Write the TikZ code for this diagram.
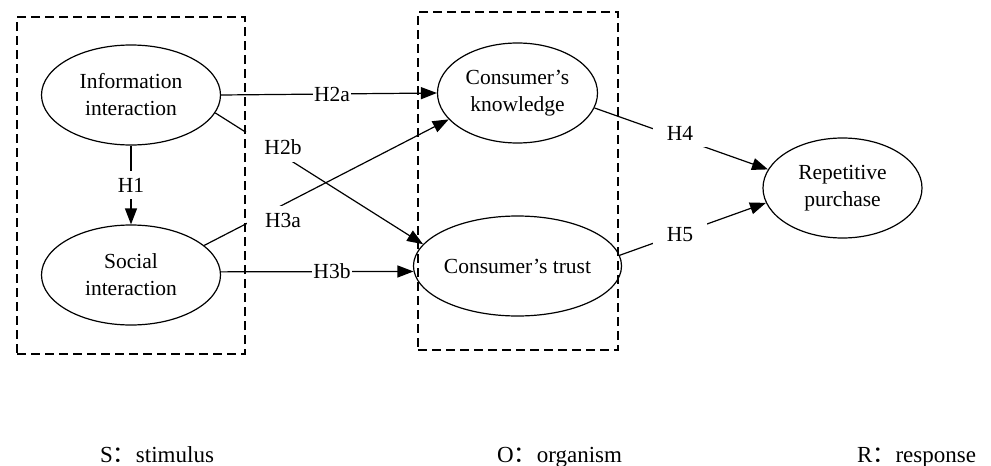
\documentclass[tikz,border=0pt]{standalone}
\usepackage{fontspec}
\setmainfont{Liberation Serif}
\newfontfamily\cjk{Noto Sans CJK SC}
\usetikzlibrary{shapes.geometric,arrows.meta}
\begin{document}
\begin{tikzpicture}[x=1pt,y=1pt,
  ell/.style={ellipse, draw, line width=1.2pt, inner sep=0pt, minimum width=#1, minimum height=100pt, align=center, font=\fontsize{21.5}{27}\selectfont},
  grp/.style={draw, line width=1.2pt, dash pattern=on 9pt off 5pt, inner sep=0pt},
  arr/.style={-{Triangle[length=16pt,width=12pt]}, line width=1.2pt},
  lab/.style={fill=white, inner xsep=1pt, inner ysep=7pt, font=\fontsize{21.5}{27}\selectfont},
  labw/.style={lab, inner xsep=#1},
  captxt/.style={anchor=base west, inner sep=0pt, font=\fontsize{23}{27}\selectfont}]
\useasboundingbox (0,0) rectangle (991,-466);
% group boxes
\node[grp, minimum width=228pt, minimum height=337pt] (sbox) at (131,-185.5) {};
\node[grp, minimum width=200pt, minimum height=338pt] (obox) at (518,-181) {};
% nodes
\node[ell=179pt] (info) at (131,-95) {Information\\interaction};
\node[ell=179pt] (social) at (131,-275) {Social\\interaction};
\node[ell=160pt] (know) at (517.5,-93) {Consumer’s\\knowledge};
\node[ell=160pt] (trust) at (517.5,-266) {Consumer’s trust};
\node[ell=159pt] (rep) at (842.5,-188) {Repetitive\\purchase};
% edges
\draw[arr] (info.south) -- (social.north);
\draw[arr] (info.0.6) -- (know.180.7);
\draw[arr] (info.-12) -- (trust.167);
\draw[arr] (social.22.6) -- (know.201);
\draw[arr] (social.2.6) -- (trust.183.6);
\draw[arr] (know.-11) -- (rep.166.4);
\draw[arr] (trust.6.5) -- (rep.191.4);
% labels
\node[lab] (h1) at (131,-185) {H1};
\node[lab] (h2a) at (332,-94) {H2a};
\node[labw=18pt] (h2b) at (283,-147) {H2b};
\node[labw=18pt] (h3a) at (283,-220) {H3a};
\node[lab] (h3b) at (332,-271) {H3b};
\node[labw=14pt] (h4) at (680,-133) {H4};
\node[labw=14pt] (h5) at (680,-235) {H5};
% captions
\node[captxt] (cs) at (100,-462) {S{\cjk ：}stimulus};
\node[captxt] (co) at (497,-462) {O{\cjk ：}organism};
\node[captxt] (cr) at (857,-462) {R{\cjk ：}response};
\end{tikzpicture}
\end{document}
